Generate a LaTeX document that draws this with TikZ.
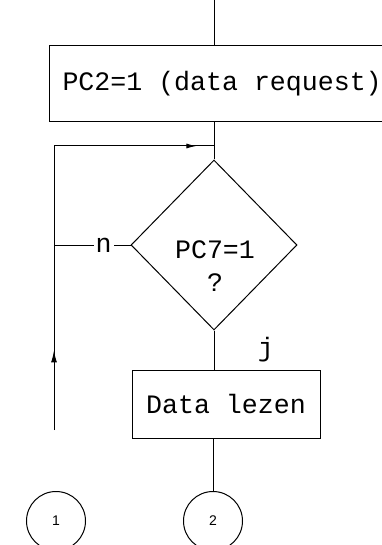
\documentclass[tikz,border=0pt]{standalone}
\usepackage{fontspec}
\setmonofont[WordSpace={1,0,0}]{Liberation Mono}
\setsansfont{Liberation Sans}
\usetikzlibrary{shapes.geometric,decorations.markings,arrows.meta}

\begin{document}
\begin{tikzpicture}[x=1pt, y=-1pt, line width=1pt,
    every node/.style={font=\ttfamily\fontsize{26.6}{33}\selectfont},
    blok/.style={draw, rectangle, inner sep=0pt},
    vraag/.style={draw, diamond, aspect=1, minimum width=166pt, minimum height=170pt, inner sep=0pt},
    con/.style={draw, circle, minimum size=59pt, inner sep=0pt, font=\sffamily\fontsize{14}{14}\selectfont}]
    \clip (0,0) rectangle (382,545);
    \coordinate (top) at (214,0);
    \node[blok, anchor=west, minimum width=352pt, minimum height=76pt] (req) at (49,84) {\makebox[326pt][l]{PC2=1\ (data\ request)}};
    \coordinate (join) at (214,146);
    \node[vraag] (cond) at (214,245) {};
    \node[align=center] (condtxt) at (215,266) {PC7=1\\?};
    \node[blok, minimum width=188pt, minimum height=68pt] (read) at (226,404) {Data lezen};
    \coordinate (loopbot) at (54,430);
    \coordinate (loopcnr) at (54,146);
    \node[con] (c1) at (56,521) {1};
    \node[con] (c2) at (213,521) {2};

    \draw (top) -- (top |- req.north);
    \draw (req.south -| join) -- (cond.north);
    \draw (cond.south) -- (read.north -| cond.south) node[midway, right=40pt] (ja) {j};
    \draw (c2 |- read.south) -- (c2.north);
    \draw (cond.west) -- node[pos=0.35, fill=white, inner sep=2pt] (nee) {n} (cond.west -| loopbot);
\begin{scope}[decoration={
    markings,
    mark=at position 0.28 with {\arrow{Latex[length=12pt,width=6pt]}}}
    ]
    \draw[postaction={decorate}] (loopbot) -- (loopcnr);
\end{scope}
\begin{scope}[decoration={
    markings,
    mark=at position 0.89 with {\arrow{Latex[length=10pt,width=5pt]}}}
    ]
    \draw[postaction={decorate}] (loopcnr) -- (join);
\end{scope}
\end{tikzpicture}
\end{document}
